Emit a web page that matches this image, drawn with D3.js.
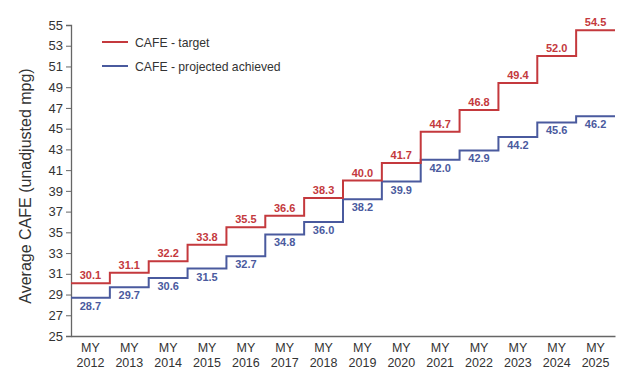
<!DOCTYPE html>
<html><head><meta charset="utf-8">
<script src="https://cdn.jsdelivr.net/npm/d3@7"></script>
<style>body{margin:0;background:#fff;} svg{display:block;font-family:"Liberation Sans",Arial,sans-serif;}</style>
</head><body>
<svg id="c" width="640" height="383"></svg>
<script>
const years = ["2012","2013","2014","2015","2016","2017","2018","2019","2020","2021","2022","2023","2024","2025"];
const target = [30.1,31.1,32.2,33.8,35.5,36.6,38.3,40.0,41.7,44.7,46.8,49.4,52.0,54.5];
const achieved = [28.7,29.7,30.6,31.5,32.7,34.8,36.0,38.2,39.9,42.0,42.9,44.2,45.6,46.2];
const yTicks = [25,27,29,31,33,35,37,39,41,43,45,47,49,51,53,55];
const seriesNames = ["CAFE - target","CAFE - projected achieved"];
const RED = "#c4393d", BLUE = "#4a5a9e";

const svg = d3.select("#c");
const L = 71, R = 615, T = 25, B = 336;
const x = d3.scaleBand().domain(years).range([L, R]);
const y = d3.scaleLinear().domain([25, 55]).range([B, T]);

// y axis
const ya = svg.append("g").attr("transform", `translate(${L},0)`)
  .call(d3.axisLeft(y).tickValues(yTicks).tickSize(5).tickPadding(3));
ya.select(".domain").attr("stroke", "#666").attr("stroke-width", 1.3);
ya.selectAll(".tick line").attr("stroke", "#666");
ya.selectAll("text").attr("font-size", 13).attr("fill", "#333").attr("font-family", "Liberation Sans, Arial");

// x axis
const xa = svg.append("g").attr("transform", `translate(0,${B})`)
  .call(d3.axisBottom(x).tickSize(0).tickSizeOuter(0).tickFormat(""));
xa.select(".domain").attr("stroke", "#666").attr("stroke-width", 1.3);
xa.selectAll(".tick").each(function(d){
  const g = d3.select(this);
  const t = g.append("text").attr("fill", "#333").attr("font-size", 12.5).attr("text-anchor", "middle");
  t.append("tspan").attr("x", 0).attr("y", 16).text("MY");
  t.append("tspan").attr("x", 0).attr("y", 31).text(d);
});

// y title
svg.append("text").attr("transform", `translate(31,186) rotate(-90)`)
  .attr("text-anchor", "middle").attr("font-size", 16).attr("fill", "#333")
  .text("Average CAFE (unadjusted mpg)");

function stepPts(vals){
  const pts = [];
  vals.forEach((v,i)=>{
    const x0 = x(years[i]), x1 = x0 + x.bandwidth();
    pts.push([x0, y(v)], [x1, y(v)]);
  });
  return pts;
}
const line = d3.line();
svg.append("path").attr("d", line(stepPts(achieved))).attr("fill","none").attr("stroke",BLUE).attr("stroke-width",2);
svg.append("path").attr("d", line(stepPts(target))).attr("fill","none").attr("stroke",RED).attr("stroke-width",2);

svg.append("g").selectAll("text").data(target).join("text")
  .attr("x",(d,i)=>x(years[i])+x.bandwidth()/2).attr("y",d=>y(d)-4)
  .attr("text-anchor","middle").attr("font-size",11).attr("font-weight","bold").attr("fill",RED)
  .text(d=>d.toFixed(1));
svg.append("g").selectAll("text").data(achieved).join("text")
  .attr("x",(d,i)=>x(years[i])+x.bandwidth()/2).attr("y",d=>y(d)+12)
  .attr("text-anchor","middle").attr("font-size",11).attr("font-weight","bold").attr("fill",BLUE)
  .text(d=>d.toFixed(1));

// legend
const leg = svg.append("g");
[RED, BLUE].forEach((c,i)=>{
  const yy = 42 + i*24;
  leg.append("line").attr("x1",102).attr("x2",128).attr("y1",yy).attr("y2",yy).attr("stroke",c).attr("stroke-width",2);
  leg.append("text").attr("x",135).attr("y",yy+4.5).attr("font-size",12.2).attr("fill","#333").text(seriesNames[i]);
});
</script>
</body></html>
